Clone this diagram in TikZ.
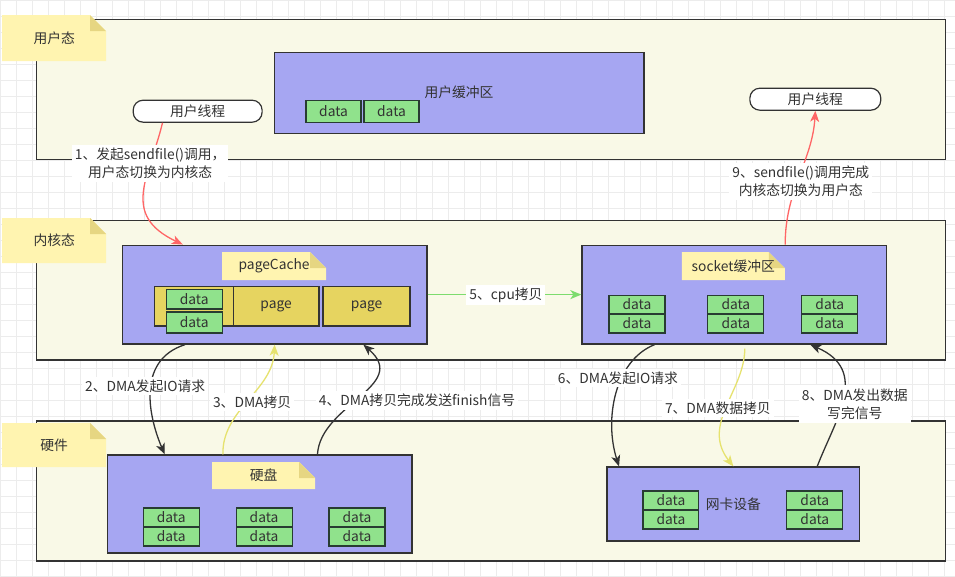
\documentclass[tikz,border=0pt]{standalone}
\usepackage{fontspec}
\setmainfont{Noto Sans CJK SC}
\usetikzlibrary{arrows.meta,calc}
\definecolor{layerfill}{RGB}{249,249,231}
\definecolor{edge}{RGB}{51,51,51}
\definecolor{notefill}{RGB}{255,244,176}
\definecolor{notefold}{RGB}{230,214,130}
\definecolor{boxfill}{RGB}{166,166,242}
\definecolor{datafill}{RGB}{144,226,140}
\definecolor{dataedge}{RGB}{40,60,50}
\definecolor{pagefill}{RGB}{230,212,96}
\definecolor{redarrow}{RGB}{255,102,102}
\definecolor{yelarrow}{RGB}{230,226,110}
\definecolor{grnarrow}{RGB}{125,220,110}
\definecolor{gridcol}{RGB}{236,236,236}
\definecolor{txt}{RGB}{51,51,51}
\begin{document}
\begin{tikzpicture}[x=1pt,y=-1pt, font=\fontsize{13.8}{18}\selectfont, text=txt,
 layer/.style={draw=edge, line width=1.2pt, fill=layerfill, minimum width=910pt, minimum height=140pt, inner sep=0pt},
 note/.style={inner sep=0pt, path picture={
   \fill[notefill] (path picture bounding box.south west) -- (path picture bounding box.north west) -- ([xshift=-16pt]path picture bounding box.north east) -- ([yshift=-16pt]path picture bounding box.north east) -- (path picture bounding box.south east) -- cycle;
   \fill[notefold] ([xshift=-16pt]path picture bounding box.north east) -- ([xshift=-16pt,yshift=-16pt]path picture bounding box.north east) -- ([yshift=-16pt]path picture bounding box.north east) -- cycle;}},
 purple/.style={draw=edge, line width=1.2pt, fill=boxfill, inner sep=0pt},
 databox/.style={draw=dataedge, line width=1.2pt, fill=datafill, inner sep=0pt, minimum width=56pt, minimum height=19pt},
 pagebox/.style={draw=edge, line width=1.2pt, fill=pagefill, inner sep=0pt, minimum height=40pt},
 pill/.style={draw=edge, line width=1.2pt, fill=white, rounded corners=10pt, minimum height=22pt, inner sep=0pt},
 lbl/.style={fill=white, inner xsep=3pt, inner ysep=3pt, align=center},
 arr/.style={line width=1.3pt, -{Stealth[length=11pt,width=9pt,inset=3pt]}}
]
\fill[white] (0,0) rectangle (955,576);
\draw[gridcol, line width=0.5pt, step=16pt] (0pt,0pt) grid (955pt,-576pt);
\useasboundingbox (0,0) rectangle (955,576);

% layers
\node[layer] (userL) at (491,89) {};
\node[layer] (kernL) at (491,290) {};
\node[layer] (hwL) at (491,491) {};

% layer notes
\node[note, minimum width=104pt, minimum height=46pt] (nUser) at (54,38) {用户态};
\node[note, minimum width=104pt, minimum height=45pt] (nKern) at (54,240.5) {内核态};
\node[note, minimum width=104pt, minimum height=44pt] (nHw) at (54,445) {硬件};

% user space
\node[purple, minimum width=370pt, minimum height=81pt] (ubuf) at (459,92.5) {用户缓冲区};
\node[databox, minimum width=55pt, minimum height=22pt] (ud1) at (333.5,111) {data};
\node[databox, minimum width=55pt, minimum height=22pt] (ud2) at (391.5,111) {data};
\node[pill, minimum width=129pt] (t1) at (197.5,111) {用户线程};
\node[pill, minimum width=131pt] (t2) at (815.5,99) {用户线程};

% kernel: page cache
\node[purple, minimum width=305pt, minimum height=99pt] (pcache) at (274.5,294.5) {};
\node[note, minimum width=104pt, minimum height=28pt] (pcn) at (274,266) {pageCache};
\node[pagebox, minimum width=79pt] (p1) at (193.5,306) {};
\node[pagebox, minimum width=86pt] (p2) at (276,306) {page};
\node[pagebox, minimum width=87pt] (p3) at (366.5,306) {page};
\node[databox, minimum height=20pt] (pd1) at (194,299) {data};
\node[databox, minimum height=21pt] (pd2) at (194,322.5) {data};

% kernel: socket buffer
\node[purple, minimum width=305pt, minimum height=99pt] (sock) at (734.5,294.5) {};
\node[note, minimum width=103pt, minimum height=28pt] (skn) at (733.5,266) {socket缓冲区};
\node[databox] (s1a) at (637,304.5) {data};
\node[databox] (s1b) at (637,323.5) {data};
\node[databox] (s2a) at (736,304.5) {data};
\node[databox] (s2b) at (736,323.5) {data};
\node[databox] (s3a) at (830,304.5) {data};
\node[databox] (s3b) at (830,323.5) {data};

% hardware: disk
\node[purple, minimum width=305pt, minimum height=98pt] (disk) at (259.5,504) {};
\node[note, minimum width=103pt, minimum height=27pt] (dkn) at (263.5,475.5) {硬盘};
\node[databox] (h1a) at (171,517.5) {data};
\node[databox] (h1b) at (171,536.5) {data};
\node[databox] (h2a) at (264,517.5) {data};
\node[databox] (h2b) at (264,536.5) {data};
\node[databox] (h3a) at (357,517.5) {data};
\node[databox] (h3b) at (357,536.5) {data};

% hardware: NIC
\node[purple, minimum width=253pt, minimum height=74pt] (nic) at (733.5,504) {网卡设备};
\node[databox] (c1a) at (671,500.5) {data};
\node[databox] (c1b) at (671,519.5) {data};
\node[databox] (c2a) at (815,500.5) {data};
\node[databox] (c2b) at (815,519.5) {data};

% arrows
\draw[arr, redarrow] ($(t1.south west)!0.23!(t1.south east)$) .. controls +(-13,54) and +(-63,-30) .. ($(pcache.north west)!0.2!(pcache.north east)$);
\draw[arr, edge] ($(pcache.south west)!0.207!(pcache.south east)$) .. controls +(-50,16) and +(-15,-35) .. ($(disk.north west)!0.19!(disk.north east)$);
\draw[arr, yelarrow] ($(disk.north west)!0.38!(disk.north east)$) .. controls +(-1,-45) and +(-2,46) .. (pcache.south);
\draw[arr, edge] ($(disk.north west)!0.689!(disk.north east)$) .. controls +(3,-50) and +(47,41) .. ($(pcache.south west)!0.79!(pcache.south east)$);
\draw[arr, grnarrow] (pcache.east) -- (sock.west);
\draw[arr, edge] ($(sock.south west)!0.239!(sock.south east)$) .. controls +(-40,16) and +(-15,-47) .. ($(nic.north west)!0.05!(nic.north east)$);
\draw[arr, yelarrow] ($(sock.south west)!0.534!(sock.south east) + (0,4)$) .. controls +(0,42) and +(-33,-42) .. (nic.north);
\draw[arr, edge] ($(nic.north west)!0.83!(nic.north east)$) .. controls +(18,-47) and +(60,26) .. ($(sock.south west)!0.748!(sock.south east)$);
\draw[arr, redarrow] ($(sock.north west)!0.666!(sock.north east)$) .. controls +(0,-55) and +(-3,50) .. (t2.south);

% labels
\node[lbl] (l1) at (150,163) {1、发起sendfile()调用，\\用户态切换为内核态};
\node[lbl] (l2) at (145,386) {2、DMA发起IO请求};
\node[lbl] (l3) at (252,402) {3、DMA拷贝};
\node[lbl] (l4) at (417,400) {4、DMA拷贝完成发送finish信号};
\node[lbl] (l5) at (506,295) {5、cpu拷贝};
\node[lbl] (l6) at (618,378) {6、DMA发起IO请求};
\node[lbl] (l7) at (718,408) {7、DMA数据拷贝};
\node[lbl, inner ysep=4pt] (l8) at (855,404) {8、DMA发出数据\\写完信号};
\node[lbl] (l9) at (801,181) {9、sendfile()调用完成\\内核态切换为用户态};
\end{tikzpicture}
\end{document}
